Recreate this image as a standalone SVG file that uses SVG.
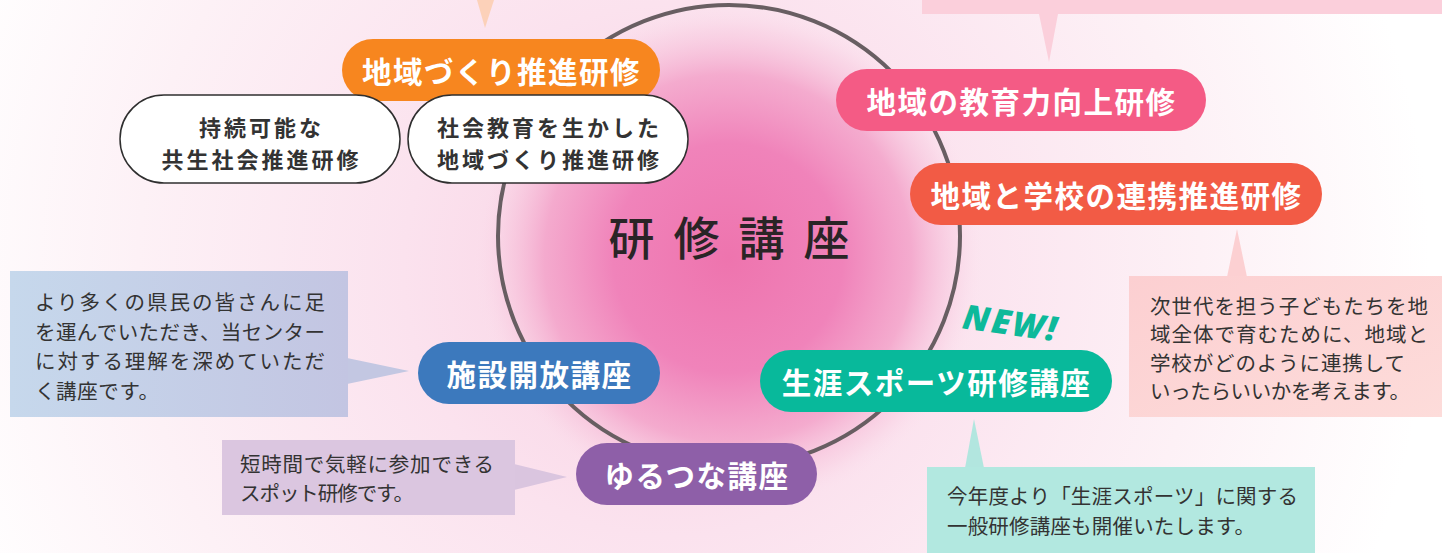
<svg xmlns="http://www.w3.org/2000/svg" width="1442" height="553" viewBox="0 0 1442 553">
<defs>
<radialGradient id="bgGlow" cx="670" cy="270" r="760" gradientUnits="userSpaceOnUse">
<stop offset="0" stop-color="#f9cfe2"/>
<stop offset="0.35" stop-color="#fbe2ee"/>
<stop offset="0.7" stop-color="#fdf1f6"/>
<stop offset="1" stop-color="#ffffff"/>
</radialGradient>
<radialGradient id="blob" cx="728" cy="258" r="255" gradientUnits="userSpaceOnUse">
<stop offset="0" stop-color="#ee74ae"/>
<stop offset="0.45" stop-color="#f083ba"/>
<stop offset="0.72" stop-color="#f3a2c9" stop-opacity="0.85"/>
<stop offset="0.9" stop-color="#f8cde1" stop-opacity="0.5"/>
<stop offset="1" stop-color="#fbe2ee" stop-opacity="0"/>
</radialGradient>
<linearGradient id="gBlue" x1="0" y1="0" x2="1" y2="0">
<stop offset="0" stop-color="#c6d8ec"/>
<stop offset="1" stop-color="#c3c5e2"/>
</linearGradient>
<linearGradient id="gPink" x1="0" y1="0" x2="1" y2="1">
<stop offset="0" stop-color="#fccfd1"/>
<stop offset="1" stop-color="#fddcda"/>
</linearGradient>
<style>
.pill-t{font-family:"Noto Sans CJK JP","Noto Sans CJK SC",sans-serif;font-weight:bold;font-size:29.5px;fill:#ffffff;text-anchor:middle;dominant-baseline:central;letter-spacing:1.5px}
.wp{fill:#ffffff;stroke:#2f2f2f;stroke-width:1.5}
.wp-t{font-family:"Noto Sans CJK JP","Noto Sans CJK SC",sans-serif;font-weight:bold;font-size:22px;fill:#333333;text-anchor:middle;dominant-baseline:central;letter-spacing:3px}
.co-t{font-family:"Noto Sans CJK JP","Noto Sans CJK SC",sans-serif;font-size:20.5px;fill:#333333;dominant-baseline:central}
</style>
</defs>

<g id="background">
<rect x="0" y="0" width="1442" height="553" fill="url(#bgGlow)"/>
<rect x="0" y="0" width="1442" height="553" fill="url(#blob)"/>
</g>

<g id="connectors">
<polygon points="477,0 494,0 485,28" fill="#fcd1b9"/>
<polygon points="1039,14 1058,14 1049,62" fill="#fbcfdb"/>
<polygon points="347,358 347,384 409,371" fill="#c3c7e2"/>
<polygon points="1227,277 1247,277 1237,229" fill="#fcd0d2"/>
<polygon points="965,468 984,468 974,419" fill="#b2e6df"/>
<polygon points="514,464 514,490 567,477" fill="#dac5df"/>
</g>

<g id="center">
<circle cx="729" cy="236" r="231" fill="none" stroke="#685e62" stroke-width="4"/>
<text x="738.5" y="235" font-family="'Noto Sans CJK JP','Noto Sans CJK SC',sans-serif" font-size="46" font-weight="500" fill="#2a2426" text-anchor="middle" dominant-baseline="central" letter-spacing="19">研修講座</text>
</g>

<g id="callout-top-right">
<rect x="922" y="0" width="520" height="14" fill="#fbcfdb"/>
</g>

<g id="node-chiikizukuri">
<rect x="342" y="39" width="318" height="62" rx="31" fill="#f7861f"/>
<text class="pill-t" x="501.5" y="70">地域づくり推進研修</text>
</g>

<g id="node-jizoku">
<rect class="wp" x="120" y="95" width="280" height="88" rx="44"/>
<text class="wp-t" x="261.5" y="126">持続可能な</text>
<text class="wp-t" x="261.5" y="158">共生社会推進研修</text>
</g>

<g id="node-shakaikyoiku">
<rect class="wp" x="408" y="95" width="280" height="88" rx="44"/>
<text class="wp-t" x="549.5" y="126">社会教育を生かした</text>
<text class="wp-t" x="549.5" y="158">地域づくり推進研修</text>
</g>

<g id="node-kyoikuryoku">
<rect x="836" y="69" width="370" height="62" rx="31" fill="#f45b85"/>
<text class="pill-t" x="1021.5" y="100">地域の教育力向上研修</text>
</g>

<g id="node-renkei">
<rect x="910" y="163" width="412" height="62" rx="31" fill="#f25b45"/>
<text class="pill-t" x="1116.5" y="194">地域と学校の連携推進研修</text>
</g>

<g id="callout-renkei">
<rect x="1129" y="276" width="313" height="141" fill="url(#gPink)"/>
<text class="co-t" x="1150" y="305" textLength="278" lengthAdjust="spacing">次世代を担う子どもたちを地</text>
<text class="co-t" x="1150" y="333" textLength="278" lengthAdjust="spacing">域全体で育むために、地域と</text>
<text class="co-t" x="1150" y="362" textLength="255" lengthAdjust="spacing">学校がどのように連携して</text>
<text class="co-t" x="1150" y="390" textLength="260" lengthAdjust="spacing">いったらいいかを考えます。</text>
</g>

<g id="new-label">
<text x="1011" y="322" transform="rotate(8 1011 322)" font-family="'Noto Sans','DejaVu Sans',sans-serif" font-size="34" font-weight="900" font-style="italic" fill="#0db99a" text-anchor="middle" dominant-baseline="central" letter-spacing="2">NEW!</text>
</g>

<g id="node-sports">
<rect x="760" y="350" width="352" height="62" rx="31" fill="#08b99b"/>
<text class="pill-t" x="936.5" y="381">生涯スポーツ研修講座</text>
</g>

<g id="callout-sports">
<rect x="927" y="467" width="388" height="86" fill="#b2e8e0"/>
<text class="co-t" x="947" y="495" textLength="351" lengthAdjust="spacing">今年度より「生涯スポーツ」に関する</text>
<text class="co-t" x="947" y="525" textLength="308" lengthAdjust="spacing">一般研修講座も開催いたします。</text>
</g>

<g id="callout-shisetsu">
<rect x="10" y="271" width="338" height="146" fill="url(#gBlue)"/>
<text class="co-t" x="35" y="301" textLength="290" lengthAdjust="spacing">より多くの県民の皆さんに足</text>
<text class="co-t" x="35" y="330.5" textLength="290" lengthAdjust="spacing">を運んでいただき、当センター</text>
<text class="co-t" x="35" y="360" textLength="290" lengthAdjust="spacing">に対する理解を深めていただ</text>
<text class="co-t" x="35" y="389.5" textLength="124" lengthAdjust="spacing">く講座です。</text>
</g>

<g id="node-shisetsu">
<rect x="418" y="342" width="242" height="62" rx="31" fill="#3c79bd"/>
<text class="pill-t" x="539.5" y="373">施設開放講座</text>
</g>

<g id="callout-yurutsuna">
<rect x="222" y="440" width="293" height="75" fill="#dbc6e0"/>
<text class="co-t" x="240" y="463" textLength="254" lengthAdjust="spacing">短時間で気軽に参加できる</text>
<text class="co-t" x="240" y="492" textLength="174" lengthAdjust="spacing">スポット研修です。</text>
</g>

<g id="node-yurutsuna">
<rect x="576" y="443" width="241" height="62" rx="31" fill="#8e5fa8"/>
<text class="pill-t" x="697" y="474">ゆるつな講座</text>
</g>
</svg>
